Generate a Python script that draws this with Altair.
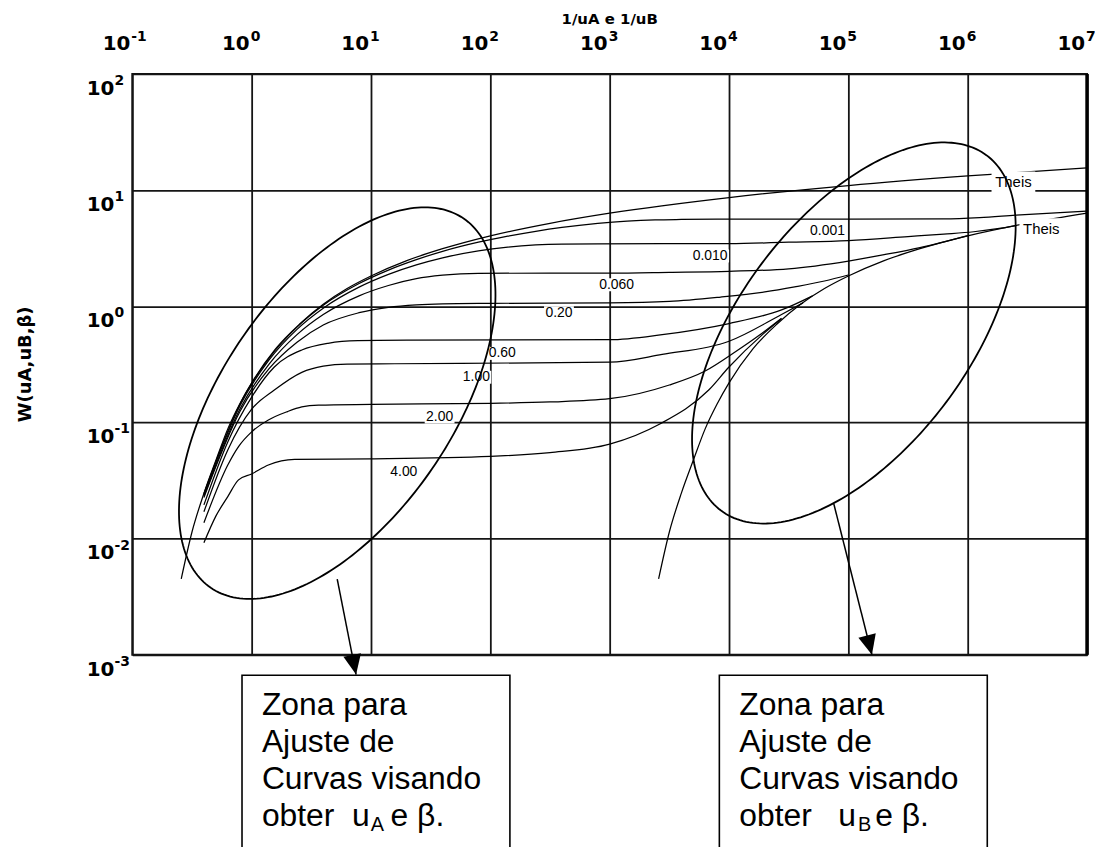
import math
import altair as alt
import pandas as pd

# ---------------- curve values ----------------
# abscissa given as log10(1/u), ordinate W(uA, uB, beta)
THEIS_A_LOGX = [-0.59, -0.5, -0.4, -0.3, -0.2, -0.1, 0.0, 0.2, 0.4, 0.6, 0.8,
                1.0, 1.3, 1.6, 2.0, 2.5, 3.0, 4.0, 5.0, 6.0, 7.0]
THEIS_A_W = [0.0045, 0.0114, 0.0245, 0.047, 0.088, 0.144, 0.219, 0.43, 0.70,
             1.04, 1.42, 1.82, 2.47, 3.13, 4.04, 5.18, 6.33, 8.63, 10.94,
             13.24, 15.54]
THEIS_B_LOGX = [3.41, 3.5, 3.6, 3.7, 3.8, 3.9, 4.0, 4.2, 4.4, 4.6, 4.8, 5.0,
                5.3, 5.6, 6.0, 6.5, 7.0]
THEIS_B_W = [0.0045, 0.0114, 0.0245, 0.047, 0.088, 0.144, 0.219, 0.43, 0.70,
             1.04, 1.42, 1.82, 2.47, 3.13, 4.04, 5.18, 6.33]
B0001_LOGX = [-0.4, -0.097, 0.146, 0.38, 0.6, 0.9, 1.146, 1.38, 1.6, 1.9,
              2.146, 2.38, 2.6, 2.9, 3.146, 3.38, 3.6, 3.9, 5.0, 5.8, 6.1,
              6.4, 6.7, 7.0]
B0001_W = [0.0244, 0.145, 0.358, 0.662, 1.02, 1.57, 2.05, 2.52, 2.97, 3.56,
           4.01, 4.42, 4.77, 5.16, 5.40, 5.54, 5.59, 5.62, 5.63, 5.66, 5.80,
           6.08, 6.35, 6.60]
B0010_LOGX = [-0.4, -0.097, 0.146, 0.38, 0.6, 0.9, 1.146, 1.38, 1.6, 1.9,
              2.146, 2.38, 2.6, 2.9, 4.0, 4.5, 5.0, 5.5, 5.8, 6.05, 6.25, 6.4]
B0010_W = [0.0241, 0.140, 0.345, 0.633, 0.963, 1.46, 1.88, 2.27, 2.61, 3.00,
           3.23, 3.37, 3.43, 3.45, 3.46, 3.56, 3.68, 3.98, 4.18, 4.38, 4.65,
           4.95]
B0060_LOGX = [-0.4, -0.097, 0.146, 0.38, 0.6, 0.9, 1.146, 1.38, 1.6, 1.9, 2.5,
              3.0, 3.5, 4.0, 4.5, 5.0, 5.3, 5.6, 6.0]
B0060_W = [0.0232, 0.131, 0.318, 0.570, 0.849, 1.23, 1.51, 1.73, 1.85, 1.92,
           1.93, 1.93, 1.96, 2.00, 2.10, 2.45, 2.78, 3.20, 4.06]
B020_LOGX = [-0.4, -0.097, 0.146, 0.38, 0.6, 0.9, 1.146, 1.38, 1.6, 2.0, 3.0,
             3.5, 3.93, 4.3, 4.55, 4.8, 5.0]
B020_W = [0.0226, 0.125, 0.29, 0.49, 0.69, 0.88, 0.98, 1.03, 1.05, 1.06, 1.07,
          1.10, 1.20, 1.33, 1.47, 1.65, 1.86]
B060_LOGX = [-0.4, -0.2, 0.0, 0.19, 0.42, 0.64, 0.89, 1.3, 3.0, 3.44, 4.0,
             4.44, 4.7]
B060_W = [0.0195, 0.068, 0.165, 0.30, 0.42, 0.48, 0.505, 0.51, 0.515, 0.57,
          0.71, 0.93, 1.23]
B100_LOGX = [-0.4, -0.2, 0.0, 0.19, 0.42, 0.6, 0.8, 1.2, 3.0, 3.44, 4.0, 4.44,
             4.62]
B100_W = [0.0170, 0.058, 0.13, 0.19, 0.27, 0.305, 0.318, 0.32, 0.33, 0.385,
          0.50, 0.85, 1.07]
B200_LOGX = [-0.4, -0.2, -0.11, 0.0, 0.14, 0.3, 0.42, 0.56, 1.0, 2.0, 2.5, 3.0,
             3.5, 3.8, 4.06, 4.25, 4.44]
B200_W = [0.0137, 0.043, 0.062, 0.083, 0.105, 0.124, 0.136, 0.141, 0.143,
          0.146, 0.15, 0.16, 0.21, 0.277, 0.41, 0.56, 0.79]
B400_LOGX = [-0.4, -0.3, -0.2, -0.11, 0.0, 0.14, 0.36, 1.0, 2.0, 2.5, 3.0, 3.42,
             3.83, 4.0, 4.28, 4.44]
B400_W = [0.0092, 0.0156, 0.023, 0.032, 0.036, 0.043, 0.048, 0.0486, 0.051,
          0.055, 0.065, 0.097, 0.19, 0.30, 0.57, 0.78]

CURVES = [
    ("Theis A", THEIS_A_LOGX, THEIS_A_W),
    ("Theis B", THEIS_B_LOGX, THEIS_B_W),
    ("0.001", B0001_LOGX, B0001_W),
    ("0.010", B0010_LOGX, B0010_W),
    ("0.060", B0060_LOGX, B0060_W),
    ("0.20", B020_LOGX, B020_W),
    ("0.60", B060_LOGX, B060_W),
    ("1.00", B100_LOGX, B100_W),
    ("2.00", B200_LOGX, B200_W),
    ("4.00", B400_LOGX, B400_W),
]

# curve labels (log10 position of label centre)
LABEL_TEXT = ["Theis", "Theis", "0.001", "0.010", "0.060", "0.20", "0.60",
              "1.00", "2.00", "4.00"]
LABEL_LOGX = [6.383, 6.617, 4.825, 3.842, 3.058, 2.575, 2.10, 1.883, 1.575, 1.275]
LABEL_LOGY = [1.067, 0.664, 0.647, 0.433, 0.185, -0.055, -0.406, -0.611, -0.954,
              -1.425]
LABEL_SIZE = [15, 15, 14, 14, 14, 14, 14, 14, 14, 14]
LABEL_BOX_W = [44, 44, 38, 38, 38, 30, 30, 30, 30, 30]
LABEL_BOX_H = [22, 22, 13, 13, 13, 13, 13, 13, 13, 13]

X_TICK_EXP = [-1, 0, 1, 2, 3, 4, 5, 6, 7]
Y_TICK_EXP = [-3, -2, -1, 0, 1, 2]

BOX_LINES = "Zona para\nAjuste de\nCurvas visando"
BOX_LAST_LEFT = ["obter\u00a0\u00a0u", "A", "e \u03b2."]
BOX_LAST_RIGHT = ["obter\u00a0\u00a0\u00a0u", "B", "e \u03b2."]

# ---------------- layout constants (pixels per decade) ----------------
PX_DEC_X = 120.0
PX_DEC_Y = 116.8
W_PLOT, H_PLOT = 960, 584

# ---------------- tables ----------------
rows = []
for name, lx, w in CURVES:
    for i, (a, b) in enumerate(zip(lx, w)):
        rows.append({"curve": name, "i": i, "x": 10 ** a, "y": b})
curves_df = pd.DataFrame(rows)

lbl_rows = []
for t, lx, ly, fs, bw, bh in zip(LABEL_TEXT, LABEL_LOGX, LABEL_LOGY, LABEL_SIZE,
                                  LABEL_BOX_W, LABEL_BOX_H):
    lbl_rows.append({
        "t": t, "fs": fs, "x": 10 ** lx, "y": 10 ** ly,
        "bx": 10 ** (lx - bw / 2 / PX_DEC_X), "bx2": 10 ** (lx + bw / 2 / PX_DEC_X),
        "by": 10 ** (ly - bh / 2 / PX_DEC_Y), "by2": 10 ** (ly + bh / 2 / PX_DEC_Y),
    })
lbl_df = pd.DataFrame(lbl_rows)

# ellipses: centre (log10 x, log10 y), semi-axes in px, tilt in degrees
ELLIPSES = [("left", 0.717, -0.834, 225, 116, 55.6),
            ("right", 5.046, -0.230, 223, 116, 53.2)]
ell_rows = []
for name, cx, cy, a, b, th in ELLIPSES:
    tr = math.radians(th)
    for k in range(241):
        t = 2 * math.pi * k / 240
        ux, vy = a * math.cos(t), b * math.sin(t)
        dxp = ux * math.cos(tr) - vy * math.sin(tr)
        dyp = ux * math.sin(tr) + vy * math.cos(tr)
        ell_rows.append({"e": name, "i": k,
                         "x": 10 ** (cx + dxp / PX_DEC_X),
                         "y": 10 ** (cy + dyp / PX_DEC_Y)})
ell_df = pd.DataFrame(ell_rows)

arr_df = pd.DataFrame({
    "x": [10 ** 0.717, 10 ** 4.8775], "y": [10 ** -2.349, 10 ** -1.699],
    "x2": [10 ** 0.875, 10 ** 5.1975], "y2": [10 ** -3.171, 10 ** -3.0],
    "ang": [348.7, 345.9],
})

box_df = pd.DataFrame({
    "x": [10 ** -0.0808, 10 ** 3.919], "x2": [10 ** 2.164, 10 ** 6.164],
    "y": [10 ** -3.177, 10 ** -3.177], "y2": [1e-6, 1e-6],
})

big_txt_df = pd.DataFrame({
    "t": [BOX_LINES, BOX_LINES, BOX_LAST_LEFT[0], BOX_LAST_RIGHT[0],
          BOX_LAST_LEFT[2], BOX_LAST_RIGHT[2]],
    "x": [10 ** 0.0858, 10 ** 4.0858, 10 ** 0.0858, 10 ** 4.0858,
          10 ** 1.164, 10 ** 5.225],
    "y": [10 ** -3.520, 10 ** -3.520, 10 ** -4.473, 10 ** -4.473,
          10 ** -4.473, 10 ** -4.473],
})
sub_txt_df = pd.DataFrame({
    "t": [BOX_LAST_LEFT[1], BOX_LAST_RIGHT[1]],
    "x": [10 ** 0.9975, 10 ** 5.0808],
    "y": [10 ** -4.518, 10 ** -4.518],
})

xt_df = pd.DataFrame({"x": [10.0 ** k for k in X_TICK_EXP],
                      "y": [100.0] * len(X_TICK_EXP),
                      "b": ["10"] * len(X_TICK_EXP),
                      "e": [str(k) for k in X_TICK_EXP]})
yt_df = pd.DataFrame({"x": [0.1] * len(Y_TICK_EXP),
                      "y": [10.0 ** k for k in Y_TICK_EXP],
                      "b": ["10"] * len(Y_TICK_EXP),
                      "e": [str(k) for k in Y_TICK_EXP]})
xtitle_df = pd.DataFrame({"x": [1000.0], "y": [100.0], "t": ["1/uA e 1/uB"]})
ytitle_df = pd.DataFrame({"x": [10 ** (-1 - 107 / PX_DEC_X)], "y": [10 ** -0.5],
                          "t": ["W(uA,uB,\u03b2)"]})
border_df = pd.DataFrame({"x": [1e7], "y": [1e-3], "y2": [100.0]})

# ---------------- scales / axes ----------------
XS = alt.Scale(type="log", domain=[0.1, 1e7], nice=False)
YS = alt.Scale(type="log", domain=[0.001, 100], nice=False)
GRID = dict(grid=True, labels=False, ticks=False, domain=False, title=None,
            gridColor="#151515", gridWidth=1.8, gridOpacity=1)
AX_X = alt.Axis(orient="top", values=[10.0 ** k for k in X_TICK_EXP], **GRID)
AX_Y = alt.Axis(orient="left", values=[10.0 ** k for k in Y_TICK_EXP], **GRID)


def X(f="x"):
    return alt.X(f"{f}:Q", scale=XS, axis=AX_X)


def Y(f="y"):
    return alt.Y(f"{f}:Q", scale=YS, axis=AX_Y)


ARIAL = "Liberation Sans, Arial, sans-serif"
BOLD = "DejaVu Sans, Verdana, sans-serif"

curves = alt.Chart(curves_df).mark_line(
    interpolate="monotone", color="black", strokeWidth=1.25
).encode(x=X(), y=Y(), detail="curve:N", order="i:Q")

label_bg = alt.Chart(lbl_df).mark_rect(color="white", opacity=1).encode(
    x=X("bx"), x2="bx2:Q", y=Y("by"), y2="by2:Q")

label_txt = alt.Chart(lbl_df).mark_text(
    font=ARIAL, color="black", align="center", baseline="middle"
).encode(x=X(), y=Y(), text="t:N", size=alt.Size("fs:Q", scale=None))

ellipses = alt.Chart(ell_df).mark_line(color="black", strokeWidth=1.8).encode(
    x=X(), y=Y(), detail="e:N", order="i:Q")

arrow_lines = alt.Chart(arr_df).mark_rule(color="black", strokeWidth=1.5).encode(
    x=X(), y=Y(), x2="x2:Q", y2="y2:Q")

arrow_heads = alt.Chart(arr_df).mark_point(
    shape="M0,0L-0.45,-1L0.45,-1Z", size=1600, filled=True, color="black",
    opacity=1, strokeWidth=0
).encode(x=X("x2"), y=Y("y2"), angle=alt.Angle("ang:Q", scale=None))

right_border = alt.Chart(border_df).mark_rule(color="black", strokeWidth=3.5).encode(
    x=X(), y=Y(), y2="y2:Q")

boxes = alt.Chart(box_df).mark_rect(
    fill="white", fillOpacity=0, stroke="black", strokeWidth=1.6
).encode(x=X(), x2="x2:Q", y=Y(), y2="y2:Q")

big_txt = alt.Chart(big_txt_df).mark_text(
    font=ARIAL, fontSize=32, align="left", baseline="alphabetic",
    lineBreak="\n", lineHeight=37, color="black"
).encode(x=X(), y=Y(), text="t:N")

sub_txt = alt.Chart(sub_txt_df).mark_text(
    font=ARIAL, fontSize=20, align="left", baseline="alphabetic", color="black"
).encode(x=X(), y=Y(), text="t:N")

xt_base = alt.Chart(xt_df).mark_text(
    font=BOLD, fontWeight="bold", fontSize=20, align="right",
    baseline="alphabetic", dx=-2, dy=-24, color="black"
).encode(x=X(), y=Y(), text="b:N")
xt_exp = alt.Chart(xt_df).mark_text(
    font=BOLD, fontWeight="bold", fontSize=14, align="left",
    baseline="alphabetic", dx=-1, dy=-33, color="black"
).encode(x=X(), y=Y(), text="e:N")
yt_base = alt.Chart(yt_df).mark_text(
    font=BOLD, fontWeight="bold", fontSize=20, align="right",
    baseline="alphabetic", dx=-18, dy=21, color="black"
).encode(x=X(), y=Y(), text="b:N")
yt_exp = alt.Chart(yt_df).mark_text(
    font=BOLD, fontWeight="bold", fontSize=14, align="left",
    baseline="alphabetic", dx=-18, dy=11, color="black"
).encode(x=X(), y=Y(), text="e:N")

xtitle = alt.Chart(xtitle_df).mark_text(
    font=BOLD, fontWeight="bold", fontSize=15, align="center",
    baseline="alphabetic", dy=-50, color="black"
).encode(x=X(), y=Y(), text="t:N")
ytitle = alt.Chart(ytitle_df).mark_text(
    font=BOLD, fontWeight="bold", fontSize=18, align="center",
    baseline="middle", angle=270, color="black"
).encode(x=X(), y=Y(), text="t:N")

chart = alt.layer(
    curves, label_bg, label_txt, ellipses, arrow_lines, arrow_heads,
    right_border, boxes, big_txt, sub_txt, xt_base, xt_exp, yt_base, yt_exp,
    xtitle, ytitle
).properties(
    width=W_PLOT, height=H_PLOT,
    autosize=alt.AutoSizeParams(type="none"),
    padding={"left": 125, "top": 64, "right": 8, "bottom": 191},
    background="white",
).configure_view(stroke="#111111", strokeWidth=2)

chart.save("out.html", embed_options={"renderer": "svg", "actions": False})
